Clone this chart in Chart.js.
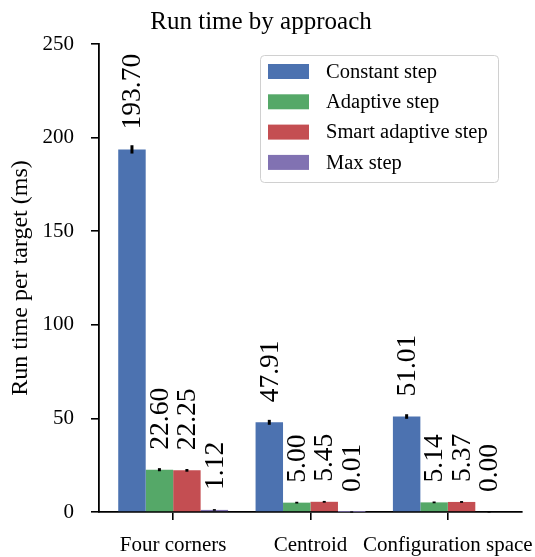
<!DOCTYPE html>
<html>
<head>
<meta charset="utf-8">
<script src="https://cdn.jsdelivr.net/npm/chart.js@4"></script>
<style>
html,body{margin:0;padding:0;background:#fff;}
canvas{display:block;}
</style>
</head>
<body>
<canvas id="c" width="535" height="557"></canvas>
<script>
const categories = ["Four corners", "Centroid", "Configuration space"];
const seriesNames = ["Constant step", "Adaptive step", "Smart adaptive step", "Max step"];
const constantStep = [193.70, 47.91, 51.01];
const adaptiveStep = [22.60, 5.00, 5.14];
const smartAdaptiveStep = [22.25, 5.45, 5.37];
const maxStep = [1.12, 0.01, 0.00];
const constantErr = [1.9, 1.0, 0.9];
const adaptiveErr = [0.5, 0.15, 0.15];
const smartErr = [0.4, 0.15, 0.15];
const maxErr = [0.1, 0.0, 0.0];
const yTicks = [0, 50, 100, 150, 200, 250];
const colors = ["#4c72b0", "#55a868", "#c44e52", "#8172b2"];

const FONT = "'Liberation Serif', 'Times New Roman', serif";
const values = [constantStep, adaptiveStep, smartAdaptiveStep, maxStep];
const errs = [constantErr, adaptiveErr, smartErr, maxErr];

const datasets = seriesNames.map((name, j) => ({
  label: name,
  data: values[j].map((v, i) => ({x: i, y: v})),
  err: errs[j],
  backgroundColor: colors[j],
  borderWidth: 0,
  categoryPercentage: 0.8,
  barPercentage: 1.0
}));

const overlay = {
  id: 'overlay',
  afterDatasetsDraw(chart) {
    const ctx = chart.ctx;
    const y = chart.scales.y;
    ctx.save();
    chart.data.datasets.forEach((ds, j) => {
      const meta = chart.getDatasetMeta(j);
      meta.data.forEach((bar, i) => {
        const v = ds.data[i].y;
        const e = ds.err[i];
        ctx.strokeStyle = '#000';
        ctx.lineWidth = 3;
        ctx.beginPath();
        const y1 = y.getPixelForValue(v - e), y2 = y.getPixelForValue(v + e);
        ctx.moveTo(bar.x, Math.max(y1, y2) + 0.6);
        ctx.lineTo(bar.x, Math.min(y1, y2) - 0.6);
        ctx.stroke();
        ctx.save();
        ctx.translate(bar.x + 1, y.getPixelForValue(v) - 20);
        ctx.rotate(-Math.PI / 2);
        ctx.fillStyle = '#000';
        ctx.font = "27.5px " + FONT;
        ctx.textAlign = 'left';
        ctx.textBaseline = 'middle';
        ctx.fillText(v.toFixed(2), 0, 0);
        ctx.restore();
      });
    });
    const ca = chart.chartArea;
    const lx = ca.right - 24, ly = ca.top + 11;
    const w = 238, h = 127;
    const left = lx - w;
    ctx.fillStyle = 'rgba(255,255,255,0.8)';
    ctx.strokeStyle = '#d0d0d0';
    ctx.lineWidth = 1;
    ctx.beginPath();
    ctx.roundRect(left + 0.5, ly + 0.5, w, h, 4);
    ctx.fill();
    ctx.stroke();
    ctx.font = "20.5px " + FONT;
    ctx.textAlign = 'left';
    ctx.textBaseline = 'middle';
    chart.data.datasets.forEach((ds, j) => {
      const cy = ly + 16.5 + j * 30.3;
      ctx.fillStyle = ds.backgroundColor;
      ctx.fillRect(left + 8, cy - 7.5, 41, 15);
      ctx.fillStyle = '#000';
      ctx.fillText(ds.label, left + 66, cy + 1);
    });
    ctx.restore();
  }
};

new Chart(document.getElementById('c'), {
  type: 'bar',
  data: { datasets },
  plugins: [overlay],
  options: {
    responsive: false,
    animation: false,
    layout: { padding: { left: 0, right: 13, top: 0, bottom: 0 } },
    plugins: {
      legend: { display: false },
      tooltip: { enabled: false },
      title: {
        display: true,
        text: 'Run time by approach',
        color: '#000',
        font: { family: FONT, size: 25, weight: 'normal' },
        padding: { top: 7, bottom: 7 }
      }
    },
    scales: {
      x: {
        type: 'linear',
        offset: false,
        min: -0.54,
        max: 2.54,
        afterBuildTicks(s) { s.ticks = categories.map((c, i) => ({ value: i })); },
        afterFit(s) { s.height = 45; s.paddingLeft = 0; s.paddingRight = 0; },
        ticks: {
          color: '#000',
          font: { family: FONT, size: 21 },
          padding: 13,
          maxRotation: 0,
          autoSkip: false,
          callback: (v) => categories[v]
        },
        grid: { offset: false, drawOnChartArea: false, drawTicks: true, tickLength: 8, color: '#000', lineWidth: 1.6 },
        border: { display: true, color: '#000', width: 1.8 }
      },
      y: {
        min: 0,
        max: 250,
        afterBuildTicks(s) { s.ticks = yTicks.map(v => ({ value: v })); },
        afterFit(s) { s.width = 99; s.paddingTop = 0; s.paddingBottom = 0; },
        title: {
          display: true,
          text: 'Run time per target (ms)',
          color: '#000',
          font: { family: FONT, size: 24 },
          padding: { top: 6, bottom: 0 }
        },
        ticks: {
          color: '#000',
          font: { family: FONT, size: 21 },
          padding: 17
        },
        grid: { drawOnChartArea: false, drawTicks: true, tickLength: 8, color: '#000', lineWidth: 1.6 },
        border: { display: true, color: '#000', width: 1.8 }
      }
    }
  }
});
</script>
</body>
</html>
